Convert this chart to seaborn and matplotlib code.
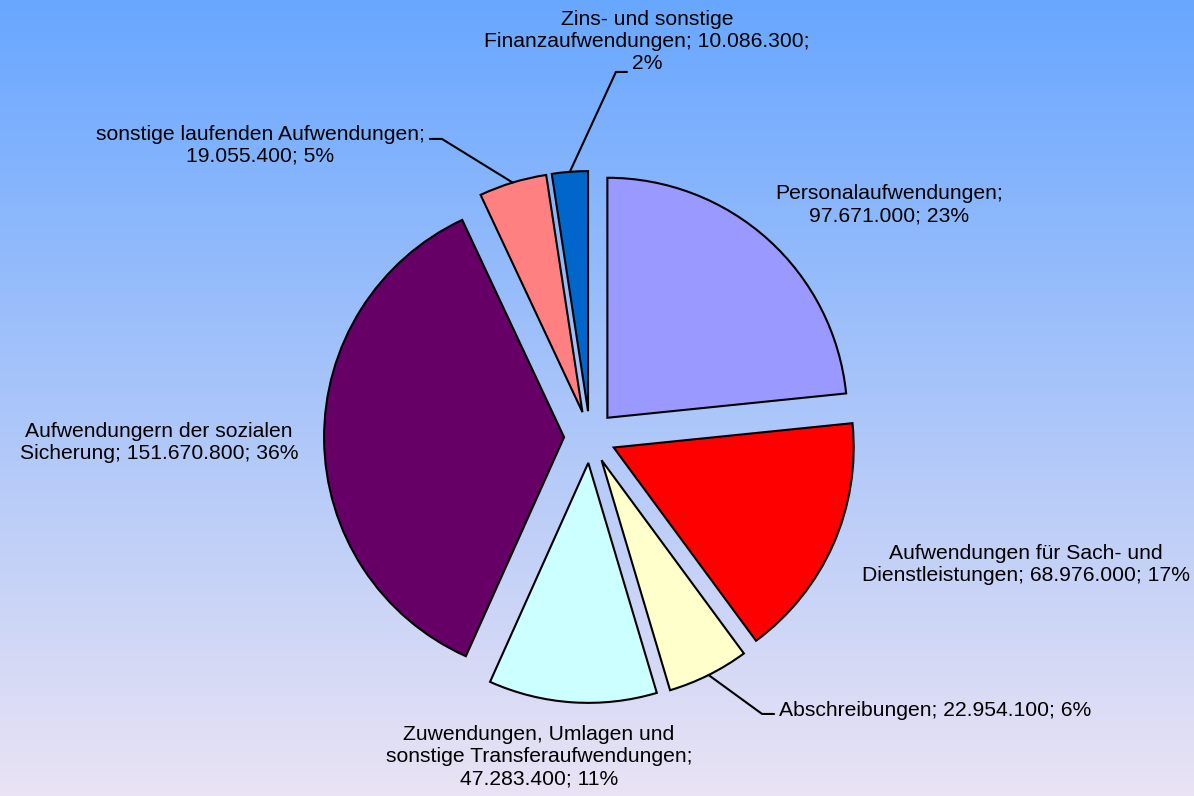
import numpy as np
import seaborn as sns
import matplotlib
matplotlib.use("Agg")
import matplotlib.pyplot as plt

# daten (Aufwendungen, Reihenfolge im Uhrzeigersinn ab 12 Uhr)
categories = ["Personalaufwendungen",
              "Aufwendungen für Sach- und\nDienstleistungen",
              "Abschreibungen",
              "Zuwendungen, Umlagen und\nsonstige Transferaufwendungen",
              "Aufwendungern der sozialen\nSicherung",
              "sonstige laufenden Aufwendungen",
              "Zins- und sonstige\nFinanzaufwendungen"]
values = [97671000, 68976000, 22954100, 47283400, 151670800, 19055400, 10086300]
colors = ["#9999FF", "#FF0000", "#FFFFCC", "#CCFFFF", "#660066", "#FF8080", "#0066CC"]

# trennzeichen fuer die Beschriftung (nach Name, nach Wert)
sep_name = [";\n", "; ", "; ", ";\n", "; ", ";\n", "; "]
sep_value = ["; ", "; ", "; ", "; ", "; ", "; ", ";\n"]

# textpositionen in Pie-Koordinaten (Radius = 1) und Ausrichtung
label_pos = [(1.246, 0.967), (1.817, -0.533), (0.788, -1.138), (-0.212, -1.333),
             (-1.796, -0.021), (-1.375, 1.215), (0.2375, 1.646)]
label_ha = ["center", "center", "left", "center", "center", "center", "center"]
# fuehrungslinien: (Knick, Ende) oder None
leaders = [None, None, ((0.717, -1.154), (0.767, -1.154)), None, None,
           ((-0.617, 1.242), (-0.667, 1.242)), ((0.108, 1.521), (0.154, 1.521))]


def percents(vals):
    # Prozente nach der Methode des groessten Restes (Summe = 100)
    raw = np.array(vals) / np.sum(vals) * 100
    base = np.floor(raw).astype(int)
    rest = 100 - base.sum()
    order = np.argsort(-(raw - base))
    base[order[:rest]] += 1
    return base


def de_num(v):
    return f"{v:,}".replace(",", ".")


sns.set_style("white")
plt.rcParams["font.family"] = ["Liberation Sans", "DejaVu Sans"]

fig = plt.figure(figsize=(11.94, 7.96), dpi=100)

# hintergrund mit Verlauf
bg = fig.add_axes([0, 0, 1, 1], zorder=0)
top = np.array([104, 167, 255]) / 255
bottom = np.array([234, 227, 244]) / 255
t = np.linspace(0, 1, 256)[:, None]
grad = (1 - t) * top + t * bottom
bg.imshow(grad[:, None, :], aspect="auto", extent=[0, 1, 0, 1])
bg.axis("off")

ax = fig.add_axes([290 / 1194, 59 / 796, 600 / 1194, 600 / 796], zorder=1)
ax.patch.set_alpha(0)
wedges, _ = ax.pie(values, colors=sns.color_palette(colors), startangle=90,
                   counterclock=False, explode=[0.108] * len(values), radius=1,
                   wedgeprops=dict(edgecolor="black", linewidth=1.5))
ax.set_xlim(-1.25, 1.25)
ax.set_ylim(-1.25, 1.25)
ax.set_aspect("equal")
ax.axis("off")

pcts = percents(values)
for i, w in enumerate(wedges):
    txt = categories[i] + sep_name[i] + de_num(values[i]) + sep_value[i] + f"{pcts[i]}%"
    x, y = label_pos[i]
    ax.text(x, y, txt, ha=label_ha[i], va="center", fontsize=15.2, color="black",
            multialignment="center", clip_on=False, zorder=5)
    if leaders[i] is not None:
        mid = np.deg2rad((w.theta1 + w.theta2) / 2)
        cx, cy = w.center
        sx, sy = cx + w.r * np.cos(mid), cy + w.r * np.sin(mid)
        (kx, ky), (ex, ey) = leaders[i]
        ax.plot([sx, kx, ex], [sy, ky, ey], color="black", lw=1.5,
                clip_on=False, zorder=4)

fig.savefig("out.png", dpi=100)
